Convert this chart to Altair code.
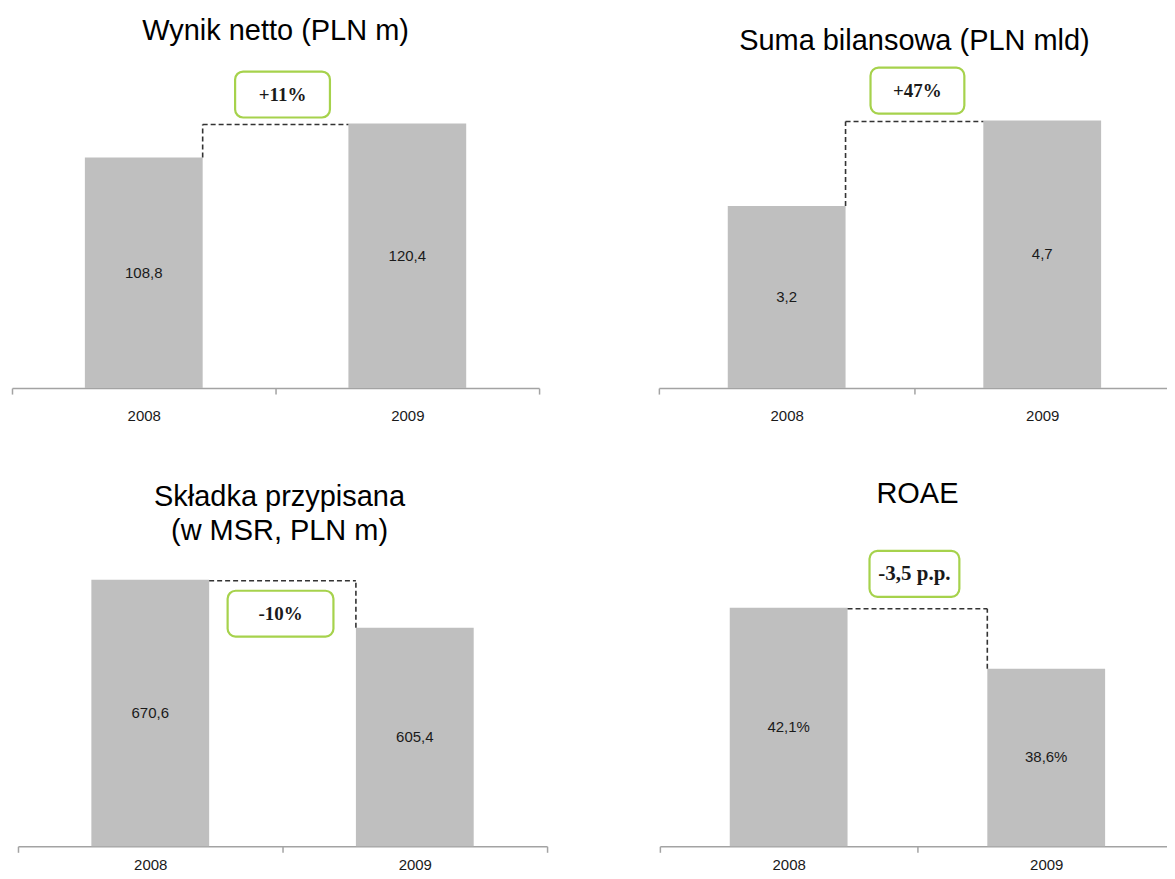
import altair as alt
import pandas as pd

# ---- data ----
years = ["2008", "2009"]
titles = [
    "Wynik netto (PLN m)",
    "Suma bilansowa (PLN mld)",
    ["Składka przypisana", "(w MSR, PLN m)"],
    "ROAE",
]
wynik_netto = [108.8, 120.4]
suma_bilansowa = [3.2, 4.7]
skladka = [670.6, 605.4]
roae = [42.1, 38.6]
suffixes = ["", "", "", "%"]
changes = ["+11%", "+47%", "-10%", "-3,5 p.p."]

# ---- style ----
BAR = "#bfbfbf"
GREEN = "#a6d24c"
AXIS = "#a3a3a3"
TXT = "#1a1a1a"
BAR_W = 118


def fmt(v, suf):
    return f"{v:.1f}".replace(".", ",") + suf


def panel(title, vals, suf, change, width, height, domain, box_below, box_w,
          box_shift, title_offset, box_font=19, box_dy=0, label_pad=14, x_start=0):
    lo = domain[0]
    df = pd.DataFrame({
        "year": years,
        "value": vals,
        "mid": [(v + lo) / 2 for v in vals],
        "label": [fmt(v, suf) for v in vals],
    })
    vmax = max(vals)
    increase = vals[1] > vals[0]
    low = min(vals)
    ann = pd.DataFrame({
        "x1": [years[0]], "x2": [years[1]],
        "ymax": [vmax], "ylow": [low], "change": [change],
    })
    half = (width - x_start) / 4.0

    if x_start:
        xsc = alt.Scale(paddingInner=0, paddingOuter=0, range=[x_start, width])
    else:
        xsc = alt.Scale(paddingInner=0, paddingOuter=0)
    ysc = alt.Scale(domain=domain, zero=False, nice=False)
    xax = alt.Axis(title=None, labelAngle=0, domainColor=AXIS, domainWidth=1.5,
                   tickColor=AXIS, tickWidth=1.5, tickSize=6, tickBand="extent",
                   labelFont="Liberation Sans", labelFontSize=15, labelColor=TXT,
                   labelPadding=label_pad, grid=False)

    base = alt.Chart(df)
    bars = base.mark_bar(width=BAR_W, color=BAR, clip=True).encode(
        x=alt.X("year:N", scale=xsc, axis=xax, sort=years),
        y=alt.Y("value:Q", scale=ysc, axis=None),
    )
    vtext = base.mark_text(font="Liberation Sans", fontSize=15, color=TXT).encode(
        x=alt.X("year:N", sort=years),
        y=alt.Y("mid:Q"),
        text="label:N",
    )
    abase = alt.Chart(ann)
    hrule = abase.mark_rule(strokeDash=[5, 3], color="#333333", strokeWidth=1.6,
                            xOffset=BAR_W / 2, x2Offset=-BAR_W / 2, yOffset=1).encode(
        x=alt.X("x1:N", sort=years),
        x2="x2:N",
        y=alt.Y("ymax:Q"),
    )
    vx = "x1:N" if increase else "x2:N"
    vrule = abase.mark_rule(strokeDash=[5, 3], color="#333333", strokeWidth=1.6,
                            xOffset=(BAR_W / 2 if increase else -BAR_W / 2),
                            y2Offset=1).encode(
        x=alt.X(vx, sort=years),
        y=alt.Y("ylow:Q"),
        y2="ymax:Q",
    )
    if box_below:
        y0, y1, dy = 11, 57, 34
    else:
        y0, y1, dy = -55, -9, -32
    y0, y1, dy = y0 + box_dy, y1 + box_dy, dy + box_dy
    inset = half - box_w / 2
    box = abase.mark_rect(cornerRadius=8, fill="white", stroke=GREEN, strokeWidth=2.2,
                          xOffset=inset + box_shift, x2Offset=-inset + box_shift,
                          yOffset=y0, y2Offset=y1).encode(
        x=alt.X("x1:N", sort=years, bandPosition=0.5),
        x2=alt.X2("x2:N", bandPosition=0.5),
        y=alt.Y("ymax:Q"),
        y2="ymax:Q",
    )
    btext = abase.mark_text(font="Liberation Serif", fontWeight="bold", fontSize=box_font,
                            color=TXT, dx=half + box_shift, dy=dy).encode(
        x=alt.X("x1:N", sort=years),
        y=alt.Y("ymax:Q"),
        text="change:N",
    )
    return alt.layer(bars, vtext, hrule, vrule, box, btext).properties(
        width=width, height=height,
        title=alt.TitleParams(text=title, fontSize=29, font="Liberation Sans",
                              fontWeight="normal", color="#000000", anchor="middle",
                              lineHeight=34, offset=title_offset),
    )


p1 = panel(titles[0], wynik_netto, suffixes[0], changes[0], 528, 329, [30.0, 142.2],
           False, 95, 7, 14, box_dy=3)
p2 = panel(titles[1], suma_bilansowa, suffixes[1], changes[1], 512, 329, [0.0, 5.77],
           False, 94, 3, 4, box_dy=2)
p3 = panel(titles[2], skladka, suffixes[2], changes[2], 536, 294, [308.0, 707.3],
           True, 106, -2, 7, label_pad=5, x_start=6)
p4 = panel(titles[3], roae, suffixes[3], changes[3], 516, 294, [28.39, 45.26],
           False, 90, -3, 41, box_font=21, box_dy=-2, label_pad=5)

top = alt.hconcat(p1, p2, spacing=118)
bottom = alt.hconcat(p3, p4, spacing=111)

chart = alt.vconcat(top, bottom, spacing=56).properties(
    padding={"left": 3, "top": 8, "right": -9, "bottom": 0},
    background="white",
).configure_view(strokeWidth=0)

chart.save("out.html", embed_options={"renderer": "svg", "actions": False})
